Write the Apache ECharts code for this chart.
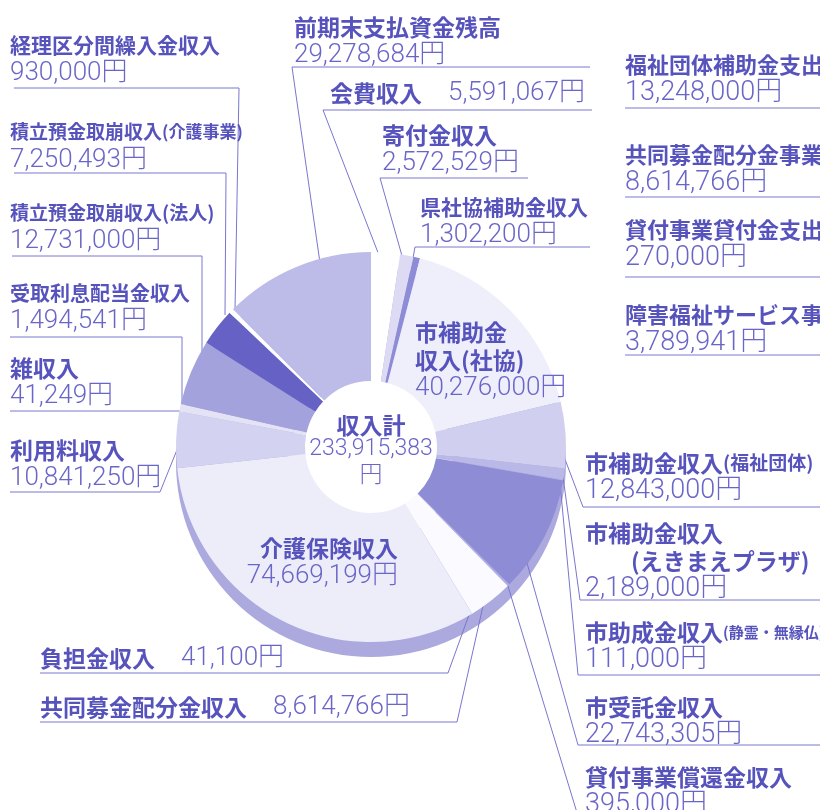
<!DOCTYPE html>
<html>
<head>
<meta charset="utf-8">
<script src="https://cdn.jsdelivr.net/npm/echarts@6/dist/echarts.min.js"></script>
<style>
html, body { margin: 0; padding: 0; background: #fff; }
#chart { width: 820px; height: 810px; }
</style>
</head>
<body>
<div id="chart"></div>
<script>
// 収入の内訳（時計回り、12時の位置から）
var names = ['会費収入', '寄付金収入', '県社協補助金収入', '市補助金収入(社協)', '市補助金収入(福祉団体)',
	'市補助金収入(えきまえプラザ)', '市助成金収入(静霊・無縁仏)', '市受託金収入', '貸付事業償還金収入',
	'共同募金配分金収入', '負担金収入', '介護保険収入', '利用料収入', '雑収入', '受取利息配当金収入',
	'積立預金取崩収入(法人)', '積立預金取崩収入(介護事業)', '経理区分間繰入金収入', '前期末支払資金残高'];
var values = [5591067, 2572529, 1302200, 40276000, 12843000,
	2189000, 111000, 22743305, 395000,
	8614766, 41100, 74669199, 10841250, 41249, 1494541,
	12731000, 7250493, 930000, 29278684];
var colors = ['#ffffff', '#dcdbf3', '#8e8bd7', '#efeffb', '#d0cff0',
	'#bab8e6', '#b4b2e3', '#8f8cd6', '#b0aee2',
	'#fafaff', '#f4f4fc', '#ededfa', '#d3d2f1', '#e8e8f8', '#e4e3f6',
	'#a4a2dc', '#6662c5', '#ffffff', '#bdbbe8'];

// 右上（支出側、切れている部分）
var sideNames = ['福祉団体補助金支出', '共同募金配分金事業費', '貸付事業貸付金支出', '障害福祉サービス事業費'];
var sideValues = [13248000, 8614766, 270000, 3789941];

var NAME_COLOR = '#5753bd', NUM_COLOR = '#6a66c8', LINE_COLOR = '#7a76cf';

// ラベルの位置・文字サイズと引き出し線
var layout = [
	{ x: 330, y: 79, inline: true, line: [[592, 110], [323, 110], [382, 263]] },
	{ x: 382, y: 121, line: [[528, 178], [380, 178], [404, 263]] },
	{ x: 420, y: 193, ns: 21, line: [[590, 247], [415, 247], [413, 258]] },
	{ x: 415, y: 318, lines: ['市補助金', '収入(社協)'] },
	{ x: 585, y: 449, vs: 27, ps: 19, line: [[820, 507], [583, 507], [557, 438]] },
	{ x: 585, y: 519, vs: 27, lines: ['市補助金収入', '　　(えきまえプラザ)'], line: [[820, 600], [580, 600], [563, 477]] },
	{ x: 585, y: 618, vs: 27, ps: 15, line: [[820, 675], [578, 675], [560, 483]] },
	{ x: 585, y: 693, vs: 27, line: [[820, 745], [578, 745], [520, 538]] },
	{ x: 585, y: 763, vs: 27, line: [[820, 816], [578, 816], [507, 583]] },
	{ x: 40, y: 693, inline: true, line: [[40, 722], [457, 722], [485, 597]] },
	{ x: 40, y: 644, inline: true, line: [[40, 673], [448, 673], [470, 612]] },
	{ x: 398, y: 534, align: 'right' },
	{ x: 10, y: 436, line: [[10, 492], [160, 492], [185, 430]] },
	{ x: 10, y: 354, line: [[10, 411], [185, 411]] },
	{ x: 10, y: 279, ns: 20, line: [[10, 337], [182, 337], [182, 405]] },
	{ x: 10, y: 199, ns: 19, ps: 19, line: [[12, 256], [202, 256], [202, 388]] },
	{ x: 10, y: 118, ns: 19, ps: 17, line: [[14, 173], [226, 173], [225, 315]] },
	{ x: 10, y: 31, ns: 21, line: [[14, 88], [239, 88], [235, 310]] },
	{ x: 294, y: 13, line: [[590, 67], [292, 67], [322, 277]] }
];

function yen(v) {
	return v.toLocaleString('en-US') + '円';
}

function makeRich(colorKey) {
	var r = {};
	for (var s = 14; s <= 28; s++) {
		var n = { fontFamily: 'Noto Sans CJK JP', fontWeight: 'bold', fontSize: s, lineHeight: 28 };
		var v = { fontFamily: 'Roboto, "Noto Sans CJK JP"', fontWeight: 300, fontSize: s, lineHeight: 28 };
		n[colorKey] = NAME_COLOR;
		v[colorKey] = NUM_COLOR;
		r['n' + s] = n;
		r['v' + s] = v;
	}
	return r;
}
var richLabel = makeRich('color');
var richGraphic = makeRich('fill');

function nameText(i) {
	var L = layout[i];
	var ns = L.ns || 23;
	if (L.lines) return L.lines.map(function (s) { return '{n' + ns + '|' + s + '}'; }).join('\n');
	var n = names[i];
	var k = n.indexOf('(');
	if (k < 0 || !L.ps) return '{n' + ns + '|' + n + '}';
	return '{n' + ns + '|' + n.slice(0, k) + '}{n' + L.ps + '|' + n.slice(k) + '}';
}

var total = values.reduce(function (a, b) { return a + b; }, 0);

var graphics = [{
	type: 'text', x: 371, y: 414, z: 10,
	style: {
		text: '{a|収入計}\n{b|' + total.toLocaleString('en-US') + '}\n{b|円}',
		align: 'center', verticalAlign: 'top',
		rich: {
			a: { fontFamily: 'Noto Sans CJK JP', fontWeight: 'bold', fontSize: 23, fill: NAME_COLOR, lineHeight: 22, align: 'center' },
			b: { fontFamily: 'Roboto, "Noto Sans CJK JP"', fontWeight: 300, fontSize: 23, fill: NUM_COLOR, lineHeight: 27, align: 'center' }
		}
	}
}];
var sideTop = [51, 141, 216, 301], sideLine = [108, 197, 277, 355];
sideNames.forEach(function (n, i) {
	graphics.push({
		type: 'text', x: 625, y: sideTop[i],
		style: { text: '{n22|' + n + '}\n{v27|' + yen(sideValues[i]) + '}', align: 'left', verticalAlign: 'top', rich: richGraphic }
	});
	graphics.push({
		type: 'line', shape: { x1: 625, y1: sideLine[i], x2: 820, y2: sideLine[i] },
		style: { stroke: LINE_COLOR, lineWidth: 1 }
	});
});

var myChart = echarts.init(document.getElementById('chart'));
var option = {
	backgroundColor: '#ffffff',
	animation: false,
	graphic: graphics,
	series: [{
		// 立体の側面
		type: 'pie',
		silent: true,
		center: [371, 462],
		radius: [82, 195],
		startAngle: 90,
		label: { show: false },
		labelLine: { show: false },
		itemStyle: { color: '#aba9de' },
		data: [{ name: 'side', value: total }]
	}, {
		type: 'pie',
		center: [371, 447],
		radius: [66, 195],
		startAngle: 90,
		clockwise: true,
		avoidLabelOverlap: false,
		z: 3,
		itemStyle: { borderWidth: 0 },
		label: {
			show: true,
			position: 'outside',
			width: 440,
			overflow: 'none',
			formatter: function (p) {
				var L = layout[p.dataIndex];
				var vs = L.vs || 26;
				if (L.inline) return nameText(p.dataIndex) + '{v' + vs + '|　' + yen(p.value) + '}';
				return nameText(p.dataIndex) + '\n{v' + vs + '|' + yen(p.value) + '}';
			},
			rich: richLabel
		},
		labelLine: {
			show: true,
			smooth: false,
			lineStyle: { color: LINE_COLOR, width: 1 }
		},
		labelLayout: function (p) {
			var L = layout[p.dataIndex];
			var out = { x: L.x, y: L.y, align: L.align || 'left', verticalAlign: 'top' };
			if (L.line) out.labelLinePoints = L.line;
			return out;
		},
		data: names.map(function (n, i) {
			return {
				name: n,
				value: values[i],
				itemStyle: { color: colors[i] },
				labelLine: { show: !!layout[i].line }
			};
		})
	}]
};
myChart.setOption(option);
</script>
</body>
</html>
